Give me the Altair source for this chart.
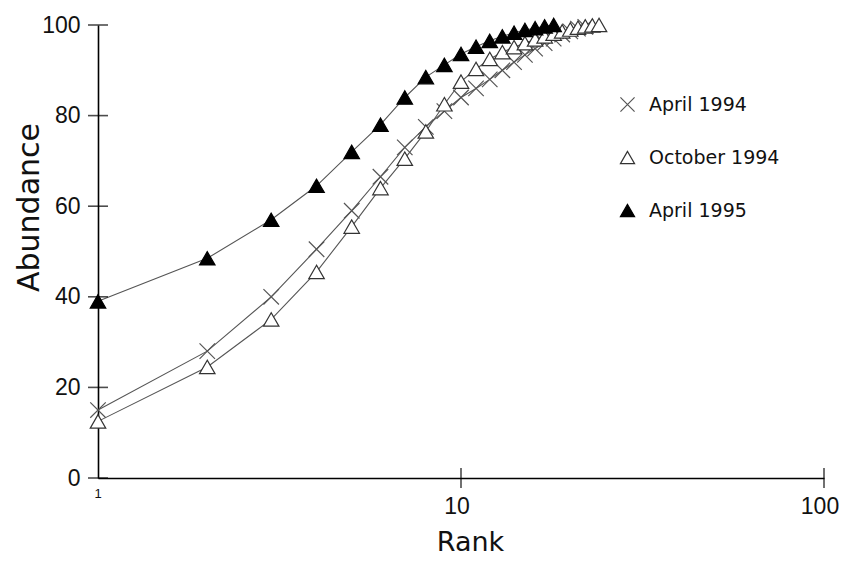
import altair as alt
import pandas as pd

series_names = ["April 1994", "October 1994", "April 1995"]

april_1994 = [15, 28, 40, 50.5, 59, 66.5, 73, 77.5, 81, 84, 86, 88, 90, 91.8,
              93.4, 94.8, 96, 97, 97.9, 98.6, 99.2, 99.6]
october_1994 = [12.5, 24.5, 35, 45.5, 55.5, 64, 70.5, 76.5, 82.5, 87.5, 90.3,
                92.5, 94, 95.1, 96, 96.8, 97.5, 98.1, 98.6, 99, 99.4, 99.7,
                99.9, 100]
april_1995 = [39, 48.5, 57, 64.5, 72, 78, 84, 88.5, 91.2, 93.6, 95.2, 96.5,
              97.5, 98.3, 98.9, 99.3, 99.7, 100]

y_tick_values = [0, 20, 40, 60, 80, 100]
x_tick_values = [10, 100]
x_label_big = ["10", "100"]
x_label_small = ["1"]

rows = []
for name, vals in zip(series_names, [april_1994, october_1994, april_1995]):
    for i, v in enumerate(vals):
        rows.append({"series": name, "rank": i + 1, "abundance": v})
df = pd.DataFrame(rows)

FONT = "DejaVu Sans"
NUMFONT = "Liberation Sans"
W, H = 726, 453
cross_path = "M-1,-1L1,1M-1,1L1,-1"

xscale = alt.Scale(type="log", domain=[1, 100], nice=False)
yscale = alt.Scale(domain=[0, 100], nice=False)

base = alt.Chart(df)

lines = base.mark_line(color="#555555", strokeWidth=1.1).encode(
    x=alt.X("rank:Q", scale=xscale,
            axis=alt.Axis(labels=False, ticks=False, grid=False, domainColor="black",
                          domainWidth=1.6, title="Rank", titleFont=FONT,
                          titleFontSize=27, titleFontWeight="normal",
                          titleColor="#111", titleX=372, titleY=64,
                          titleAlign="center", titleBaseline="middle")),
    y=alt.Y("abundance:Q", scale=yscale,
            axis=alt.Axis(values=y_tick_values, ticks=False, grid=False,
                          domainColor="black", domainWidth=1.6, labelFont=NUMFONT,
                          labelFontSize=23, labelColor="#111", labelPadding=18,
                          title="Abundance", titleFont=FONT, titleFontSize=30,
                          titleFontWeight="normal", titleColor="#111",
                          titleX=-54, titleY=182, titleBaseline="bottom")),
    detail="series:N",
)

points = base.mark_point(filled=False, size=240, strokeWidth=1.2, opacity=1).encode(
    x="rank:Q",
    y="abundance:Q",
    shape=alt.Shape("series:N",
                    scale=alt.Scale(domain=series_names,
                                    range=[cross_path, "triangle-up", "triangle-up"]),
                    legend=alt.Legend(title=None, orient="none", legendX=520,
                                      legendY=70, labelFont=FONT, labelFontSize=19,
                                      labelColor="#111", symbolSize=200,
                                      symbolStrokeWidth=1.2, rowPadding=33,
                                      labelOffset=12, labelLimit=300)),
    fill=alt.Fill("series:N",
                  scale=alt.Scale(domain=series_names,
                                  range=["transparent", "white", "black"])),
    stroke=alt.Stroke("series:N",
                      scale=alt.Scale(domain=series_names,
                                      range=["#555555", "#333333", "black"])),
)

ytick_df = pd.DataFrame({"v": y_tick_values})
yticks = alt.Chart(ytick_df).mark_tick(orient="horizontal", size=20, thickness=1.6,
                                        color="black").encode(
    y=alt.Y("v:Q", scale=yscale), x=alt.value(0))

xtick_df = pd.DataFrame({"r": x_tick_values, "lab": x_label_big})
xticks = alt.Chart(xtick_df).mark_tick(orient="vertical", size=20, thickness=1.6,
                                        color="black").encode(
    x=alt.X("r:Q", scale=xscale), y=alt.value(H))

xlabels = alt.Chart(xtick_df).mark_text(font=NUMFONT, fontSize=23, color="#111",
                                         baseline="middle", align="center",
                                         dx=-4).encode(
    x=alt.X("r:Q", scale=xscale), y=alt.value(H + 29), text="lab:N")

xsmall_df = pd.DataFrame({"r": [1], "lab": x_label_small})
xlabel_small = alt.Chart(xsmall_df).mark_text(font=NUMFONT, fontSize=13, color="#111",
                                               baseline="middle", align="center").encode(
    x=alt.X("r:Q", scale=xscale), y=alt.value(H + 16), text="lab:N")

chart = alt.layer(lines, points, yticks, xticks, xlabels, xlabel_small).properties(
    width=W, height=H,
    autosize=alt.AutoSizeParams(type="none"),
    padding={"left": 90, "top": 17, "right": 15, "bottom": 80},
    background="white",
).configure_view(stroke=None)

chart.save("out.html", embed_options={"renderer": "svg", "actions": False})
